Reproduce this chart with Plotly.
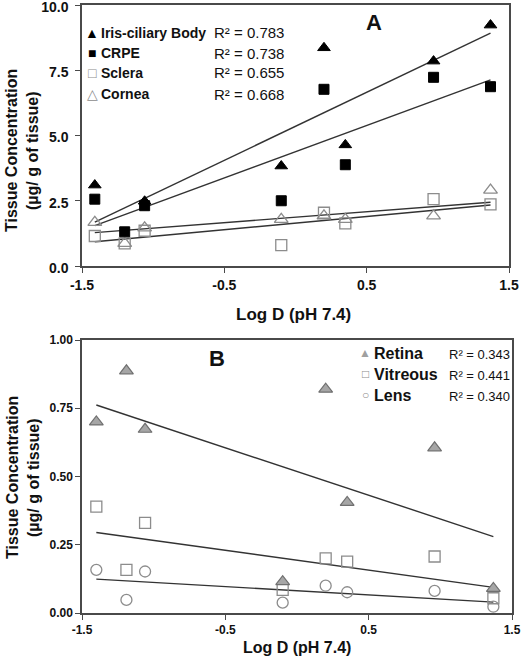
import plotly.graph_objects as go

W, H = 523, 659

# ---------------- Panel A data ----------------
logd_a = [-1.41, -1.20, -1.06, -0.10, 0.20, 0.35, 0.97, 1.37]
iris = [3.10, None, 2.48, 3.83, 8.36, 4.64, 7.85, 9.23]
crpe = [2.56, 1.31, 2.31, 2.50, 6.77, 3.88, 7.23, 6.87]
sclera = [1.15, 0.87, 1.35, 0.80, 2.04, 1.63, 2.56, 2.36]
cornea = [1.67, 0.87, 1.46, 1.79, 1.92, 1.79, 1.92, 2.91]

fit_x_a = [-1.41, 1.37]
iris_fit = [1.68, 8.92]
crpe_fit = [1.55, 7.13]
cornea_fit = [1.28, 2.44]
sclera_fit = [0.93, 2.34]

r2_a_labels = ["Iris-ciliary Body", "CRPE", "Sclera", "Cornea"]
r2_a_values = ["0.783", "0.738", "0.655", "0.668"]

# ---------------- Panel B data ----------------
logd_b = [-1.40, -1.19, -1.06, -0.10, 0.20, 0.35, 0.96, 1.37]
retina = [0.700, 0.887, 0.673, 0.115, 0.820, 0.405, 0.605, 0.090]
vitreous = [0.390, 0.158, 0.330, 0.085, 0.200, 0.188, 0.207, 0.054]
lens = [0.158, 0.048, 0.152, 0.038, 0.100, 0.076, 0.081, 0.023]

fit_x_b = [-1.40, 1.37]
retina_fit = [0.762, 0.280]
vitreous_fit = [0.295, 0.094]
lens_fit = [0.124, 0.040]

r2_b_labels = ["Retina", "Vitreous", "Lens"]
r2_b_values = ["0.343", "0.441", "0.340"]

x_ticks = [-1.5, -0.5, 0.5, 1.5]
y_ticks_a = [0, 2.5, 5.0, 7.5, 10.0]
y_ticks_b = [0, 0.25, 0.5, 0.75, 1.0]

FONT = "Liberation Sans, Arial, sans-serif"
LINE = "#333333"
AX = "#4a4a4a"

def px(x):
    return x / W

def py(y):
    return 1 - y / H

fig = go.Figure()

def pts(x, y, xa, ya, symbol, size, fill, lc, lw):
    fig.add_trace(go.Scatter(
        x=x, y=y, mode="markers", xaxis=xa, yaxis=ya, showlegend=False,
        hoverinfo="skip",
        marker=dict(symbol=symbol, size=size, color=fill,
                    line=dict(color=lc, width=lw))))

def fit(x, y, xa, ya):
    fig.add_trace(go.Scatter(
        x=x, y=y, mode="lines", xaxis=xa, yaxis=ya, showlegend=False,
        hoverinfo="skip", line=dict(color=LINE, width=1.4)))

# Panel A
fit(fit_x_a, cornea_fit, "x", "y")
fit(fit_x_a, sclera_fit, "x", "y")
fit(fit_x_a, iris_fit, "x", "y")
fit(fit_x_a, crpe_fit, "x", "y")
pts(logd_a, sclera, "x", "y", "square", 11, "rgba(255,255,255,0)", "#8c8c8c", 1.3)
pts(logd_a, cornea, "x", "y", "triangle-up", 12, "rgba(255,255,255,0)", "#8c8c8c", 1.3)
pts(logd_a, crpe, "x", "y", "square", 10, "black", "black", 1)
pts(logd_a, iris, "x", "y", "triangle-up", 11, "black", "black", 1)

# Panel B
fit(fit_x_b, retina_fit, "x2", "y2")
fit(fit_x_b, vitreous_fit, "x2", "y2")
fit(fit_x_b, lens_fit, "x2", "y2")
pts(logd_b, lens, "x2", "y2", "circle", 11, "rgba(255,255,255,0)", "#8c8c8c", 1.3)
pts(logd_b, vitreous, "x2", "y2", "square", 11, "rgba(255,255,255,0)", "#8c8c8c", 1.3)
pts(logd_b, retina, "x2", "y2", "triangle-up", 12, "#a6a6a6", "#707070", 1.2)

axis_common = dict(showline=True, linecolor=AX, linewidth=1.5, mirror=True,
                   ticks="outside", ticklen=5, tickwidth=1.3, tickcolor=AX,
                   showgrid=False, zeroline=False, automargin=False,
                   ticklabeloverflow="allow")

fig.update_layout(
    width=W, height=H, margin=dict(l=0, r=0, t=0, b=0), autosize=False,
    paper_bgcolor="white", plot_bgcolor="white", showlegend=False,
    xaxis=dict(domain=[px(82), px(509)], range=[-1.5, 1.5], anchor="y",
               tickvals=x_ticks, ticktext=["-1.5", "-0.5", "0.5", "1.5"],
               tickfont=dict(family=FONT, size=14, color="#111", weight="bold"),
               **axis_common),
    yaxis=dict(domain=[py(266), py(5)], range=[0, 10], anchor="x",
               tickvals=y_ticks_a, tickformat=".1f", ticklabelstandoff=4,
               ticklabelshift=2,
               tickfont=dict(family=FONT, size=14, color="#111", weight="bold"),
               **axis_common),
    xaxis2=dict(domain=[px(82), px(512)], range=[-1.5, 1.5], anchor="y2",
                tickvals=x_ticks, ticktext=["-1.5", "-0.5", "0.5", "1.5"],
                tickfont=dict(family=FONT, size=12, color="#111", weight="bold"),
                **axis_common),
    yaxis2=dict(domain=[py(613), py(340)], range=[0, 1], anchor="x2",
                tickvals=y_ticks_b, tickformat=".2f",
                tickfont=dict(family=FONT, size=12, color="#111", weight="bold"),
                **axis_common),
)

def ann(text, x, y, size, bold=False, xanchor="center", color="#111", angle=0):
    fig.add_annotation(
        text=text, x=px(x), y=py(y), xref="paper", yref="paper",
        showarrow=False, xanchor=xanchor, yanchor="middle", textangle=angle,
        font=dict(family=FONT, size=size, color=color,
                  weight="bold" if bold else "normal"))

# Axis titles
for cy in (151, 478):
    ann("Tissue Concentration", 12, cy, 16, True, angle=-90)
    ann("(µg/ g of tissue)", 33, cy, 16, True, angle=-90)
ann("Log D (pH 7.4)", 293, 314, 17, True)
ann("Log D (pH 7.4)", 297, 647, 16, True)

# Panel letters
ann("A", 374, 23, 22, True)
ann("B", 217, 359, 22, True)

# Panel A legend
rows_a = [33, 53, 73, 94]
sym_a = [("▲", "#000"), ("■", "#000"), ("□", "#8c8c8c"), ("△", "#8c8c8c")]
for (s, c), lab, val, yy in zip(sym_a, r2_a_labels, r2_a_values, rows_a):
    ann(s, 92, yy, 14, False, color=c)
    ann(lab, 99, yy, 14, True, xanchor="left")
    ann("R² = " + val, 212, yy, 15, False, xanchor="left")

# Panel B legend
rows_b = [353, 374, 395]
sym_b = [("▲", "#a0a0a0"), ("□", "#8c8c8c"), ("○", "#8c8c8c")]
for (s, c), lab, val, yy in zip(sym_b, r2_b_labels, r2_b_values, rows_b):
    ann(s, 365, yy, 12, False, color=c)
    ann(lab, 372, yy, 16, True, xanchor="left")
    ann("R² = " + val, 447, yy + 1, 13, False, xanchor="left")

fig.write_html("out.html",
               config={"displayModeBar": False},
               post_script="document.body.style.margin='0';"
                           "document.body.style.padding='0';")
